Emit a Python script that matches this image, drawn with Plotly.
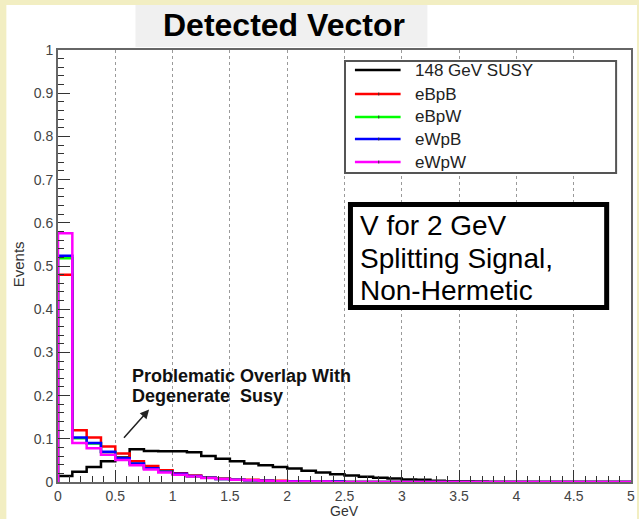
import numpy as np
import plotly.graph_objects as go

# ---- data: 40 bins of 0.125 GeV from 0 to 5 GeV ----
bin_edges = np.linspace(0.0, 5.0, 41)

series_names = ["148 GeV SUSY", "eBpB", "eBpW", "eWpB", "eWpW"]
series_colors = ["#000000", "#FF0000", "#00FF00", "#0000FF", "#FF00FF"]

susy_148 = [0.014, 0.024, 0.035, 0.048, 0.057, 0.076, 0.072, 0.071, 0.071, 0.069,
            0.060, 0.054, 0.048, 0.043, 0.039, 0.035, 0.031, 0.026, 0.022, 0.018,
            0.015, 0.012, 0.010, 0.008, 0.006, 0.005, 0.003, 0.002, 0.002, 0.001,
            0, 0, 0, 0, 0, 0, 0, 0, 0, 0]
eBpB = [0.480, 0.120, 0.103, 0.082, 0.066, 0.048, 0.037, 0.027, 0.020, 0.015,
        0.011, 0.008, 0.006, 0.005, 0.004, 0.003, 0.002, 0.002, 0.001, 0.001,
        0, 0, 0, 0, 0, 0, 0, 0, 0, 0, 0, 0, 0, 0, 0, 0, 0, 0, 0, 0]
eBpW = [0.518, 0.101, 0.089, 0.069, 0.054, 0.042, 0.031, 0.024, 0.018, 0.013,
        0.010, 0.007, 0.005, 0.004, 0.003, 0.002, 0.002, 0.001, 0.001, 0.001,
        0, 0, 0, 0, 0, 0, 0, 0, 0, 0, 0, 0, 0, 0, 0, 0, 0, 0, 0, 0]
eWpB = [0.524, 0.103, 0.090, 0.070, 0.055, 0.043, 0.032, 0.024, 0.019, 0.014,
        0.010, 0.007, 0.005, 0.004, 0.003, 0.002, 0.002, 0.001, 0.001, 0.001,
        0, 0, 0, 0, 0, 0, 0, 0, 0, 0, 0, 0, 0, 0, 0, 0, 0, 0, 0, 0]
eWpW = [0.576, 0.090, 0.078, 0.063, 0.051, 0.039, 0.029, 0.022, 0.017, 0.013,
        0.009, 0.007, 0.005, 0.004, 0.003, 0.002, 0.001, 0.001, 0.001, 0,
        0, 0, 0, 0, 0, 0, 0, 0, 0, 0, 0, 0, 0, 0, 0, 0, 0, 0, 0, 0]

series_values = [susy_148, eBpB, eBpW, eWpB, eWpW]

x_ticks = [0, 0.5, 1, 1.5, 2, 2.5, 3, 3.5, 4, 4.5, 5]
y_ticks = [0, 0.1, 0.2, 0.3, 0.4, 0.5, 0.6, 0.7, 0.8, 0.9, 1]

# ---- page geometry (pixels) ----
W, H = 639, 519
ML, MR, MT, MB = 58, 4, 50, 37
PW, PH = W - ML - MR, H - MT - MB


def px(xp):
    return (xp - ML) / PW


def py(yp):
    return (H - MB - yp) / PH


SANS = "Liberation Sans, Arial, Helvetica, sans-serif"

fig = go.Figure()

# step-outline histograms
for name, color, vals in zip(series_names, series_colors, series_values):
    xs = np.concatenate([[bin_edges[0]], bin_edges])
    ys = np.concatenate([[0.0], vals, [vals[-1]]])
    fig.add_trace(go.Scatter(
        x=xs, y=ys, mode="lines", name=name,
        line=dict(color=color, width=2.5, shape="hv"),
        showlegend=False, hoverinfo="skip",
    ))

shapes = []
annotations = []

# page background: white panel on a pale slide
shapes.append(dict(type="rect", xref="paper", yref="paper",
                   x0=px(6), x1=px(W + 2), y0=py(H + 2), y1=py(5),
                   fillcolor="white", line=dict(width=0), layer="below"))
# title plate
shapes.append(dict(type="rect", xref="paper", yref="paper",
                   x0=px(136), x1=px(430), y0=py(47), y1=py(5),
                   fillcolor="#F0F0F0", line=dict(width=0), layer="below"))
annotations.append(dict(text="<b>Detected Vector</b>", xref="paper", yref="paper",
                        x=px(286), y=py(25), xanchor="center", yanchor="middle",
                        showarrow=False, font=dict(family=SANS, size=32, color="black")))

# legend box
shapes.append(dict(type="rect", xref="paper", yref="paper",
                   x0=px(347), x1=px(620), y0=py(173), y1=py(61),
                   fillcolor="white", line=dict(color="#555555", width=2)))
row_y = [70, 94, 117, 139, 162]
for i, (name, color) in enumerate(zip(series_names, series_colors)):
    yy = py(row_y[i])
    shapes.append(dict(type="line", xref="paper", yref="paper",
                       x0=px(357), x1=px(403), y0=yy, y1=yy,
                       line=dict(color=color, width=2.5)))
    if i > 0:
        shapes.append(dict(type="line", xref="paper", yref="paper",
                           x0=px(381), x1=px(381), y0=py(row_y[i] - 1.5), y1=py(row_y[i] + 1.5),
                           line=dict(color="#333333", width=1)))
    annotations.append(dict(text=name, xref="paper", yref="paper",
                            x=px(415), y=yy, xanchor="left", yanchor="middle",
                            showarrow=False, font=dict(family=SANS, size=17, color="#222222")))

# boxed caption
shapes.append(dict(type="rect", xref="paper", yref="paper",
                   x0=px(352.5), x1=px(610.5), y0=py(307.5), y1=py(204.5),
                   fillcolor="white", line=dict(color="black", width=5)))
caption = ["V for 2 GeV", "Splitting Signal,", "Non-Hermetic"]
for line_text, yc in zip(caption, [225, 258, 290]):
    annotations.append(dict(text=line_text, xref="paper", yref="paper",
                            x=px(360), y=py(yc), xanchor="left", yanchor="middle",
                            showarrow=False, font=dict(family=SANS, size=28, color="black")))

# overlap note with arrow
note = ["<b>Problematic Overlap With</b>", "<b>Degenerate\u00a0 Susy</b>"]
for line_text, yc in zip(note, [376, 396]):
    annotations.append(dict(text=line_text, xref="paper", yref="paper",
                            x=px(131), y=py(yc), xanchor="left", yanchor="middle",
                            showarrow=False, font=dict(family=SANS, size=18, color="#111111")))
annotations.append(dict(x=0.795, y=0.168, ax=0.564, ay=0.099, xref="x", yref="y",
                        axref="x", ayref="y", text="", showarrow=True,
                        arrowhead=2, arrowsize=1.2, arrowwidth=1.5, arrowcolor="#222222"))

# axis titles
annotations.append(dict(text="GeV", xref="paper", yref="paper",
                        x=px(346), y=py(511), xanchor="center", yanchor="middle",
                        showarrow=False, font=dict(family=SANS, size=14, color="#333333")))
annotations.append(dict(text="Events", xref="paper", yref="paper",
                        x=px(18), y=py(264), xanchor="center", yanchor="middle",
                        textangle=-90, showarrow=False,
                        font=dict(family=SANS, size=15, color="#333333")))

fig.update_layout(
    width=W, height=H,
    margin=dict(l=ML, r=MR, t=MT, b=MB, pad=0),
    paper_bgcolor="#F2EEC2",
    plot_bgcolor="white",
    showlegend=False,
    shapes=shapes,
    annotations=annotations,
    font=dict(family=SANS, size=14, color="#333333"),
)

fig.update_xaxes(
    range=[0, 5], tickvals=x_ticks, ticktext=[f"{v:g}" for v in x_ticks],
    ticks="inside", ticklen=12, tickwidth=1, tickcolor="#333333",
    minor=dict(dtick=0.1, ticks="inside", ticklen=6, tickwidth=1, tickcolor="#333333", showgrid=False),
    showgrid=True, gridcolor="#9A9A9A", griddash="dot", gridwidth=1,
    showline=True, linecolor="#666666", linewidth=2, mirror=True,
    zeroline=False, tickfont=dict(family=SANS, size=14, color="#444444"),
)
fig.update_yaxes(
    range=[0, 1], tickvals=y_ticks, ticktext=[f"{v:g}" for v in y_ticks],
    ticks="inside", ticklen=12, tickwidth=1, tickcolor="#333333",
    minor=dict(dtick=0.02, ticks="inside", ticklen=6, tickwidth=1, tickcolor="#333333", showgrid=False),
    showgrid=False,
    showline=True, linecolor="#666666", linewidth=2, mirror=True,
    zeroline=False, tickfont=dict(family=SANS, size=14, color="#444444"),
)

fig.write_html("out.html")
